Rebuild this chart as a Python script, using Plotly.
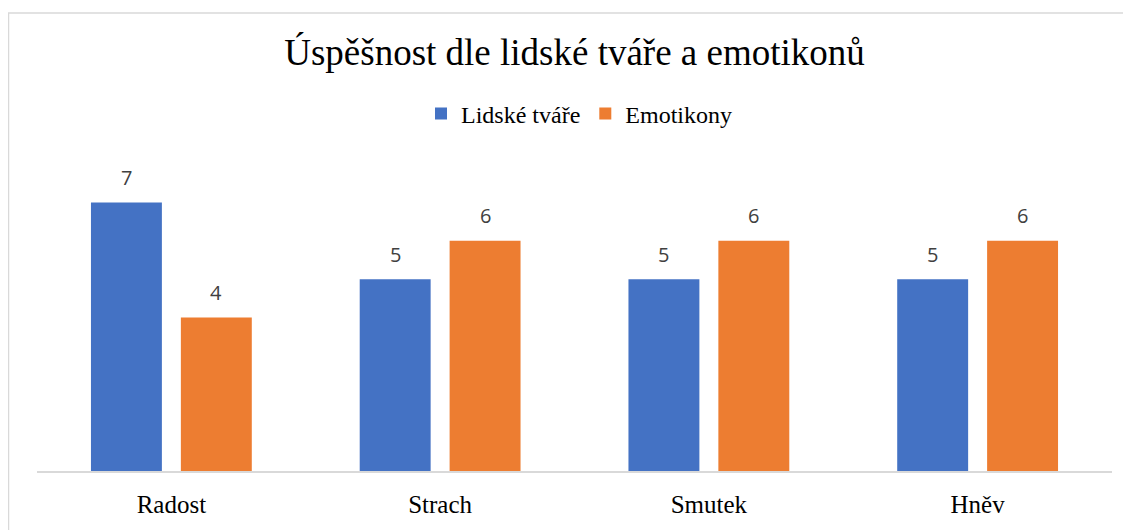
import plotly.graph_objects as go

categories = ["Radost", "Strach", "Smutek", "Hněv"]
lidske_tvare = [7, 5, 5, 5]
emotikony = [4, 6, 6, 6]
series_names = ["Lidské tváře", "Emotikony"]
title_text = "Úspěšnost dle lidské tváře a emotikonů"

OFF = 8  # page body margin
W, H = 1131 - OFF, 530 - OFF
L, R, T, B = 37 - OFF, 19, 164 - OFF, 54
pw = W - L - R
ph = H - T - B

serif = "Liberation Serif, Times New Roman, serif"
sans = "Open Sans, Liberation Sans, sans-serif"
colors = ["#4472C4", "#ED7D31"]
all_series = [lidske_tvare, emotikony]

fig = go.Figure()
for name, vals, col in zip(series_names, all_series, colors):
    fig.add_trace(go.Bar(
        x=categories, y=vals, name=name, marker=dict(color=col, line=dict(width=0)),
    ))

bargap, bargroupgap = 0.331, 0.211
cat_px = pw / len(categories)
slot_px = cat_px * (1 - bargap) / len(all_series)
annotations = []
for si, vals in enumerate(all_series):
    shift = (si - (len(all_series) - 1) / 2) * slot_px
    for c, v in zip(categories, vals):
        annotations.append(dict(x=c, y=v, xref="x", yref="y", text=str(v), showarrow=False,
                                xshift=shift, yshift=25, yanchor="middle", xanchor="center",
                                font=dict(family=sans, size=20, color="#404040")))

def px_x(p):
    return (p - OFF - L) / pw

def px_y(p):
    return (H - B - (p - OFF)) / ph

fig.update_layout(
    width=W, height=H,
    margin=dict(l=L, r=R, t=T, b=B),
    paper_bgcolor="white", plot_bgcolor="white",
    barmode="group", bargap=bargap, bargroupgap=bargroupgap,
    title=dict(text=title_text, x=0.5, xref="paper", xanchor="center",
               y=1 - (52 - OFF) / H, yref="container", yanchor="middle",
               font=dict(family=serif, size=37, color="#000000")),
    legend=dict(orientation="h", x=px_x(579), xanchor="center", y=px_y(113), yanchor="middle",
                font=dict(family=serif, size=24, color="#000000"),
                itemwidth=30, traceorder="normal", bgcolor="rgba(0,0,0,0)"),
    xaxis=dict(showline=True, linecolor="#D9D9D9", linewidth=2, ticks="", showgrid=False,
               tickfont=dict(family=serif, size=25, color="#000000"),
               ticklabelstandoff=10),
    yaxis=dict(range=[0, 8], visible=False, showgrid=False, zeroline=False),
    showlegend=True,
    annotations=annotations,
    shapes=[dict(type="rect", xref="paper", yref="paper",
                 x0=px_x(8.5), x1=px_x(1145), y0=px_y(545), y1=px_y(10.5),
                 line=dict(color="#D9D9D9", width=1.5), fillcolor="rgba(0,0,0,0)", layer="below")],
)

fig.write_html("out.html")
